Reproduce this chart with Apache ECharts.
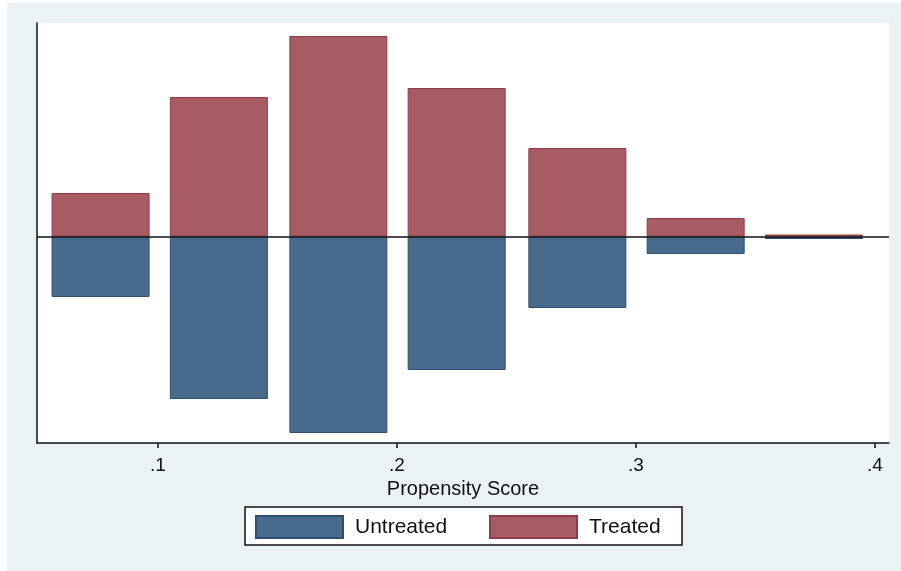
<!DOCTYPE html>
<html>
<head>
<meta charset="utf-8">
<script src="https://cdn.jsdelivr.net/npm/echarts@6/dist/echarts.min.js"></script>
<style>
  html, body { margin: 0; padding: 0; background: #fff; }
  #chart { width: 901px; height: 571px; }
</style>
</head>
<body>
<div id="chart"></div>
<script>
// bin midpoints of the propensity score histogram
const binCenters = [0.076, 0.1255, 0.1755, 0.225, 0.2755, 0.325, 0.3745];
// bar heights (arbitrary units)
const treated = [43.5, 139.5, 200.5, 148.5, 88.5, 18.5, 2];
const untreated = [60.5, 162.5, 196.5, 133.5, 71.5, 17.5, 2.5];
const tickValues = [0.1, 0.2, 0.3, 0.4];

const font = '"Liberation Sans", Arial, sans-serif';
const red = '#a65c62', redEdge = '#8f3c48';
const blue = '#486b8c', blueEdge = '#2e4f70';

const myChart = echarts.init(document.getElementById('chart'));

const option = {
  backgroundColor: '#ffffff',
  animation: false,
  graphic: [
    { type: 'rect', z: -10, shape: { x: 7, y: 3, width: 894, height: 568 }, style: { fill: '#eaf2f3' } },
    { type: 'rect', z: 0, shape: { x: 245, y: 507, width: 437, height: 38 },
      style: { fill: '#fff', stroke: '#111', lineWidth: 1.5 } }
  ],
  grid: {
    left: 37, top: 23, width: 852, height: 420,
    show: true, backgroundColor: '#fff', borderWidth: 0
  },
  legend: [
    {
      data: [{ name: 'Untreated', icon: 'rect' }], left: 255, top: 515, padding: 0,
      itemWidth: 87, itemHeight: 22,
      textStyle: { fontFamily: font, fontSize: 21, color: '#111', padding: [0, 0, 0, 7] }
    },
    {
      data: [{ name: 'Treated', icon: 'rect' }], left: 489, top: 515, padding: 0,
      itemWidth: 87, itemHeight: 22,
      textStyle: { fontFamily: font, fontSize: 21, color: '#111', padding: [0, 0, 0, 7] }
    }
  ],
  xAxis: {
    type: 'value',
    min: 0.0494,
    max: 0.4059,
    name: 'Propensity Score',
    nameLocation: 'middle',
    nameGap: 32,
    nameTextStyle: { fontFamily: font, fontSize: 20, color: '#111' },
    axisLine: { onZero: false, lineStyle: { color: '#111', width: 1.5 } },
    axisTick: { show: true, length: 5, customValues: tickValues, lineStyle: { color: '#111', width: 1.5 } },
    axisLabel: {
      customValues: tickValues,
      margin: 13,
      fontFamily: font, fontSize: 19, color: '#111',
      formatter: v => String(Math.round(v * 10) / 10).replace(/^0/, '')
    },
    splitLine: { show: false }
  },
  yAxis: {
    type: 'value',
    min: -206.5,
    max: 213.5,
    axisLine: { show: true, lineStyle: { color: '#111', width: 1.5 } },
    axisTick: { show: false },
    axisLabel: { show: false },
    splitLine: { show: false }
  },
  series: [
    {
      name: 'Untreated',
      type: 'bar',
      barWidth: 98,
      barGap: '-100%',
      data: binCenters.map((c, i) => [c, -untreated[i]]),
      itemStyle: { color: blue, borderColor: blueEdge, borderWidth: 1 },
      z: 2
    },
    {
      name: 'Treated',
      type: 'bar',
      barWidth: 98,
      barGap: '-100%',
      data: binCenters.map((c, i) => [c, treated[i]]),
      itemStyle: { color: red, borderColor: redEdge, borderWidth: 1 },
      z: 2,
      markLine: {
        silent: true,
        symbol: 'none',
        label: { show: false },
        lineStyle: { color: '#111', width: 1.5, type: 'solid' },
        data: [{ yAxis: 0 }],
        z: 3
      }
    }
  ]
};

myChart.setOption(option);
</script>
</body>
</html>
